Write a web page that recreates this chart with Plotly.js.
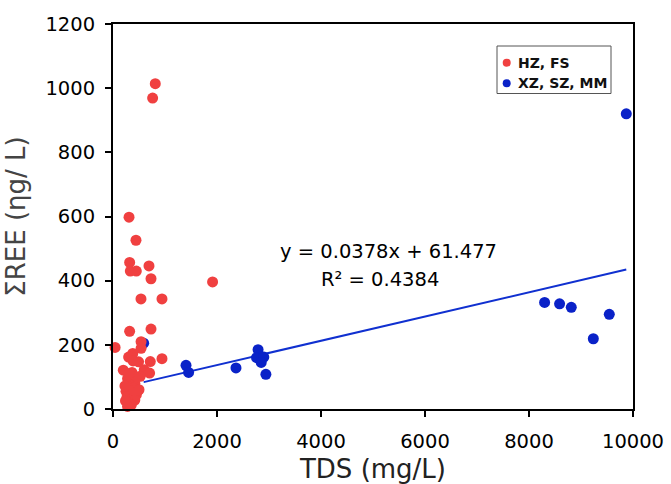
<!DOCTYPE html>
<html>
<head>
<meta charset="utf-8">
<script src="https://cdn.plot.ly/plotly-3.0.1.min.js"></script>
<style>html,body{margin:0;padding:0;background:#fff;}#chart{width:671px;height:484px;}</style>
</head>
<body>
<div id="chart"></div>
<script>
// ---- data ----
const redTDS = [813, 762, 308, 442, 320, 692, 333, 448, 731, 1915, 538, 942, 320, 731, 40, 540, 540, 380, 300, 385, 717, 942, 198, 365, 600, 704, 525, 492,
                280, 350, 420, 300, 380, 250, 330, 450, 270, 360, 420, 300, 350, 280, 400, 230, 460, 310, 500, 240];
const redREE = [1014, 969, 598, 526, 457, 446, 430, 430, 406, 396, 343, 343, 242, 249, 192, 210, 189, 173, 162, 150, 148, 157, 121, 114, 122, 112, 102, 147,
                95, 88, 80, 70, 65, 55, 50, 45, 38, 32, 28, 20, 12, 8, 58, 72, 100, 110, 60, 25];
const blueTDS = [590, 1404, 1454, 2365, 2790, 2760, 2900, 2850, 2940, 8300, 8588, 8813, 9544, 9237, 9871];
const blueREE = [205, 136, 114, 128, 185, 160, 162, 145, 108, 332, 328, 317, 295, 219, 920];
const fitSlope = 0.0378;
const fitIntercept = 61.477;
const seriesNames = ["HZ, FS", "XZ, SZ, MM"];
const seriesColors = ["#F04040", "#0A22C8"];
const xTicks = [0, 2000, 4000, 6000, 8000, 10000];
const yTicks = [0, 200, 400, 600, 800, 1000, 1200];
const eqText = "y = 0.0378x + 61.477";
const r2Text = "R² = 0.4384";

const fitX = [Math.min(...blueTDS), Math.max(...blueTDS)];
const fitY = fitX.map(v => fitSlope * v + fitIntercept);

const FONT = "DejaVu Sans, Verdana, sans-serif";

const traces = [
  {x: fitX, y: fitY, mode: "lines", line: {color: "#1030D0", width: 2}, showlegend: false, hoverinfo: "skip", cliponaxis: false},
  {x: blueTDS, y: blueREE, mode: "markers", name: seriesNames[1], marker: {color: seriesColors[1], size: 11}, showlegend: false, cliponaxis: false},
  {x: redTDS, y: redREE, mode: "markers", name: seriesNames[0], marker: {color: seriesColors[0], size: 11}, showlegend: false, cliponaxis: false}
];

// plot area: x 113..633 px, y 24..409 px
const PL = 113, PR = 633, PT = 24, PB = 409;
const px2x = p => (p - PL) / (PR - PL);
const px2y = p => (PB - p) / (PB - PT);

const shapes = [
  {type: "rect", xref: "paper", yref: "paper", x0: px2x(497), x1: px2x(611), y0: px2y(93.5), y1: px2y(46),
   line: {color: "#555", width: 1}, fillcolor: "rgba(0,0,0,0)"}
];
const annotations = [
  {xref: "paper", yref: "paper", x: px2x(388), y: px2y(251), text: eqText, showarrow: false, xanchor: "center", yanchor: "middle",
   font: {family: FONT, size: 19.5, color: "#000"}},
  {xref: "paper", yref: "paper", x: px2x(380), y: px2y(279), text: r2Text, showarrow: false, xanchor: "center", yanchor: "middle",
   font: {family: FONT, size: 19.5, color: "#000"}}
];
const legendY = [62.7, 83.3];
seriesNames.forEach((n, i) => {
  shapes.push({type: "circle", xref: "paper", yref: "paper", xsizemode: "pixel", ysizemode: "pixel",
    xanchor: px2x(506.7), yanchor: px2y(legendY[i]), x0: -4, x1: 4, y0: -4, y1: 4,
    fillcolor: seriesColors[i], line: {width: 0}});
  annotations.push({xref: "paper", yref: "paper", x: px2x(516), y: px2y(legendY[i]), text: "<b>" + n + "</b>", showarrow: false,
    xanchor: "left", yanchor: "middle", font: {family: FONT, size: 14, color: "#111"}});
});

const axisCommon = {
  showgrid: false, zeroline: false, showline: true, mirror: true, linecolor: "#000", linewidth: 2,
  ticks: "outside", ticklen: 6, tickwidth: 2, tickcolor: "#000",
  tickfont: {family: FONT, size: 19.5, color: "#000"}
};

const layout = {
  width: 671, height: 484,
  margin: {l: PL, r: 671 - PR, t: PT, b: 484 - PB, pad: 0},
  paper_bgcolor: "#fff", plot_bgcolor: "#fff",
  showlegend: false,
  xaxis: Object.assign({}, axisCommon, {
    range: [0, 10000], tickvals: xTicks, ticktext: xTicks.map(String), ticklabelstandoff: 8,
    title: {text: "TDS (mg/L)", font: {family: FONT, size: 26, color: "#222"}, standoff: 10}
  }),
  yaxis: Object.assign({}, axisCommon, {
    range: [0, 1200], tickvals: yTicks, ticktext: yTicks.map(String), ticklabelstandoff: 6,
    title: {text: "ΣREE (ηg/ L)", font: {family: FONT, size: 26, color: "#444"}, standoff: 12}
  }),
  shapes: shapes,
  annotations: annotations
};

Plotly.newPlot("chart", traces, layout, {displayModeBar: false, staticPlot: true});
</script>
</body>
</html>
